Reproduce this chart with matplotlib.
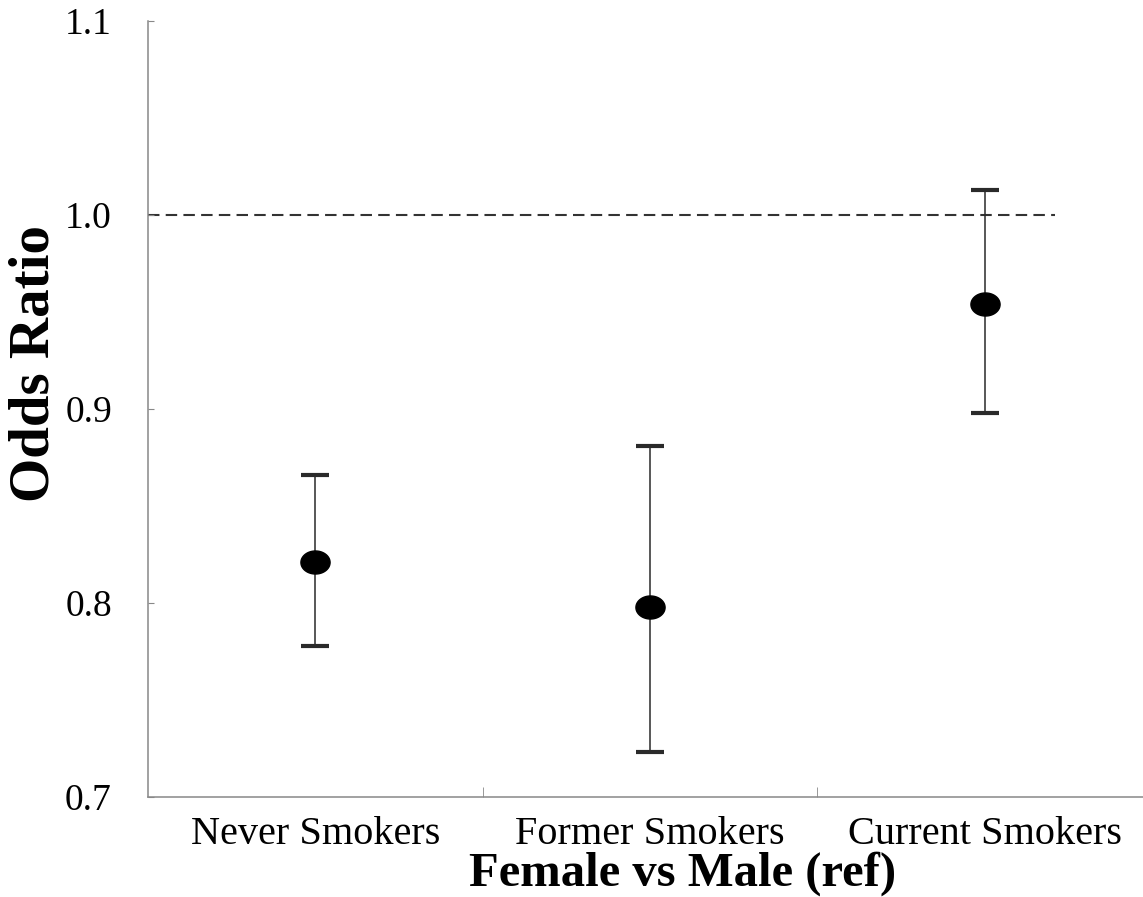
import numpy as np
import matplotlib
matplotlib.use('Agg')
import matplotlib.pyplot as plt
from matplotlib.path import Path

# odds ratios, female vs male (ref)
groups = ["Never Smokers", "Former Smokers", "Current Smokers"]
odds = [0.821, 0.798, 0.954]
ci_low = [0.778, 0.723, 0.898]
ci_high = [0.866, 0.881, 1.013]
yticks = [0.7, 0.8, 0.9, 1.0, 1.1]

plt.rcParams['font.family'] = ['Liberation Serif', 'DejaVu Serif']

# slightly wide ellipse marker like the original
t = np.linspace(0, 2 * np.pi, 60)
ell = Path(np.column_stack([np.cos(t), 0.79 * np.sin(t)]), closed=True)

fig = plt.figure(figsize=(11.43, 8.97), dpi=100)
ax = fig.add_axes([148 / 1143, 100 / 897, 1004 / 1143, 776 / 897])

x = np.arange(len(groups))
odds = np.array(odds)
yerr = [odds - np.array(ci_low), np.array(ci_high) - odds]

ax.errorbar(x, odds, yerr=yerr, fmt='none', ecolor='#2a2a2a', elinewidth=1.1,
            capsize=10, capthick=3, zorder=2)
ax.plot(x, odds, linestyle='none', marker=ell, markersize=21, color='black', zorder=3)

ax.hlines(1.0, -0.5, 2.21, colors='#333333', linewidth=1.5,
          linestyles=(0, (5.5, 3)), zorder=1)

ax.set_xlim(-0.5, 2.5)
ax.set_ylim(0.7, 1.1)
ax.set_yticks(yticks)
ax.set_yticklabels([f"{v:.1f}" for v in yticks])
ax.set_xticks(x)
ax.set_xticklabels(groups)
ax.set_xticks([0.5, 1.5], minor=True)

for s in ['top', 'right']:
    ax.spines[s].set_visible(False)
for s in ['left', 'bottom']:
    ax.spines[s].set_color('#888888')
    ax.spines[s].set_linewidth(1.1)

ax.tick_params(axis='y', direction='in', length=4, color='#888888', pad=26, labelsize=27)
ax.tick_params(axis='x', which='major', length=0, pad=14, labelsize=29)
ax.tick_params(axis='x', which='minor', direction='in', length=7, color='#888888')

ax.set_ylabel("Odds Ratio", fontsize=41, fontweight='bold', va='center')
ax.yaxis.set_label_coords(-0.113, 0.558)
ax.set_xlabel("Female vs Male (ref)", fontsize=35, fontweight='bold', va='center')
ax.xaxis.set_label_coords(0.532, -0.099)

fig.savefig("out.png", dpi=100)
